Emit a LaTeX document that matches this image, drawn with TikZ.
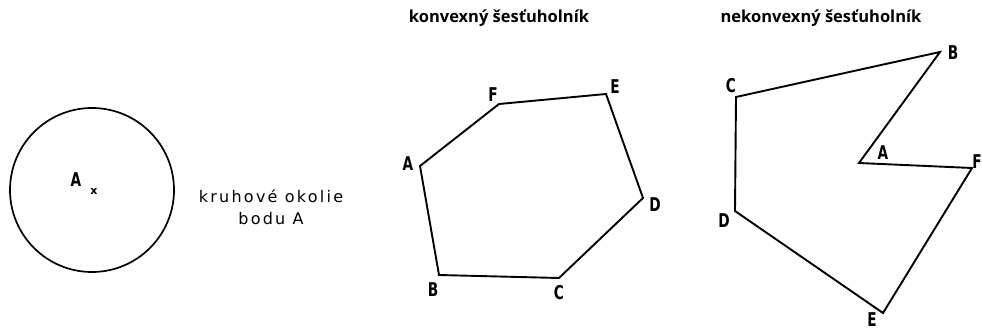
\documentclass[tikz,border=0pt]{standalone}
\usepackage{fontspec}
\setmainfont{DejaVu Sans}
\newfontfamily\titlefont{Open Sans}
\newfontfamily\labfont[LetterSpace=14]{DejaVu Sans}
\begin{document}
\begin{tikzpicture}[x=1pt,y=-1pt,
  edge/.style={line width=1.9pt,line join=miter},
  vlab/.style={font=\bfseries\fontsize{19}{19}\selectfont,inner sep=0pt,xscale=0.72,transform shape},
  ttl/.style={font=\titlefont\bfseries\fontsize{16.5}{17}\selectfont,inner sep=0pt},
  captext/.style={font=\labfont\fontsize{16}{18}\selectfont,inner sep=0pt,align=center}]
\useasboundingbox (0,0) rectangle (982,331);
% circle
\node[circle,draw,line width=1.7pt,minimum size=164pt,inner sep=0pt] (circ) at (92,190) {};
\coordinate (pA) at (94,191);
\node[inner sep=0pt,font=\bfseries\fontsize{11}{11}\selectfont] (xm) at (pA) {x};
\node[vlab] (lA0) at (76,180) {A};
\node[captext] (cap1) at (271,207) {kruhové okolie\\[4pt]bodu A};
% convex hexagon
\node[ttl] (t1) at (499,18) {konvexný šesťuholník};
\coordinate (A1) at (420,166);
\coordinate (F1) at (499,104);
\coordinate (E1) at (606,94);
\coordinate (D1) at (643,198);
\coordinate (C1) at (559,278);
\coordinate (B1) at (439,275);
\draw[edge] (A1) -- (F1) -- (E1) -- (D1) -- (C1) -- (B1) -- cycle;
\node[vlab] (lA1) at (408,164) {A};
\node[vlab] (lF1) at (493,95) {F};
\node[vlab] (lE1) at (615,87) {E};
\node[vlab] (lD1) at (655,205) {D};
\node[vlab] (lC1) at (559,293) {C};
\node[vlab] (lB1) at (433,290) {B};
% nonconvex hexagon
\node[ttl] (t2) at (821,18) {nekonvexný šesťuholník};
\coordinate (C2) at (736,97);
\coordinate (B2) at (940,52);
\coordinate (A2) at (859,163);
\coordinate (F2) at (972,168);
\coordinate (E2) at (883,313);
\coordinate (D2) at (735,211);
\draw[edge] (C2) -- (B2) -- (A2) -- (F2) -- (E2) -- (D2) -- cycle;
\node[vlab] (lC2) at (731,86) {C};
\node[vlab] (lB2) at (953,53) {B};
\node[vlab] (lA2) at (883,153) {A};
\node[vlab] (lF2) at (977,162) {F};
\node[vlab] (lE2) at (872,320) {E};
\node[vlab] (lD2) at (724,221) {D};
\end{tikzpicture}
\end{document}
